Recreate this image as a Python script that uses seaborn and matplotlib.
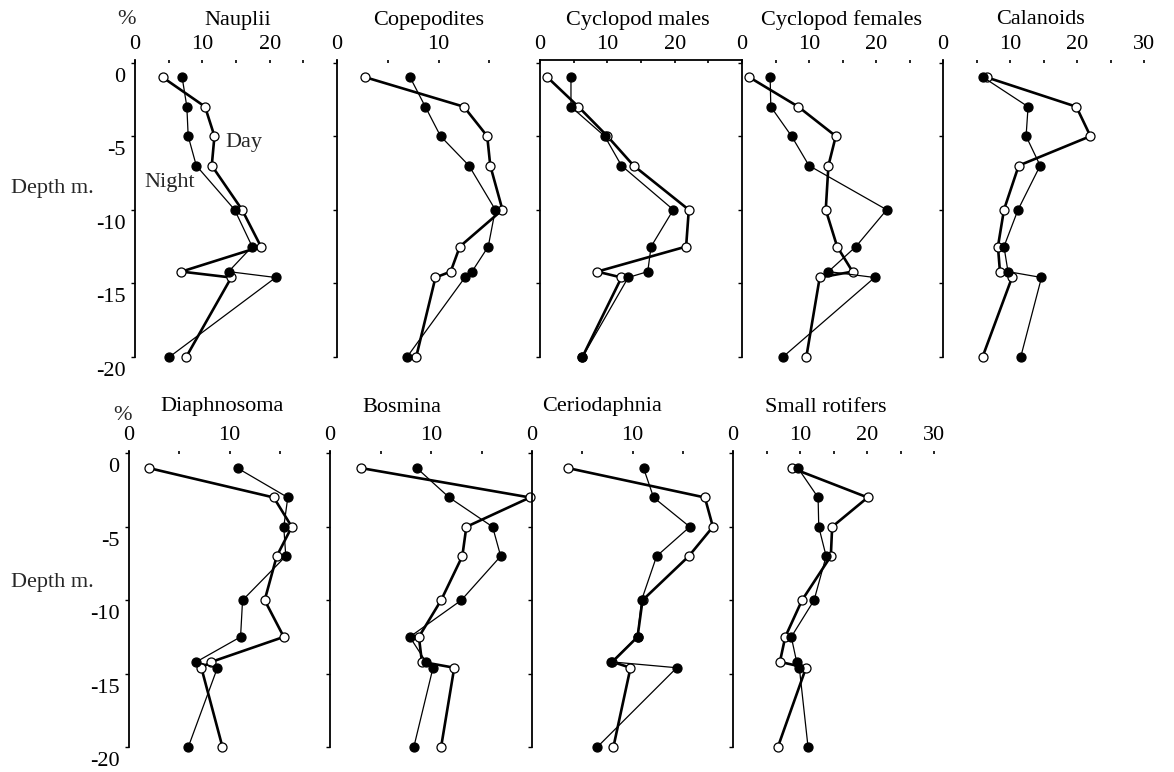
import numpy as np
import pandas as pd
import matplotlib
matplotlib.use("Agg")
import matplotlib.pyplot as plt
import matplotlib.transforms as mtransforms
import seaborn as sns

# ---------------- data (percent of population per depth) ----------------
depth = [-1, -3, -5, -7, -10, -12.5, -14.2, -14.6, -20]

nauplii_day = [4.1, 10.4, 11.8, 11.4, 15.9, 18.7, 6.9, 14.3, 7.6]
nauplii_night = [7.0, 7.7, 7.9, 9.1, 14.8, 17.4, 13.9, 20.9, 5.1]

copepodites_day = [2.8, 12.5, 14.8, 15.1, 16.3, 12.1, 11.2, 9.7, 7.8]
copepodites_night = [7.2, 8.7, 10.2, 13.0, 15.6, 14.9, 13.3, 12.6, 6.9]

cyc_males_day = [1.1, 5.7, 10.0, 13.9, 22.1, 21.7, 8.5, 12.1, 6.3]
cyc_males_night = [4.6, 4.6, 9.6, 12.1, 19.8, 16.5, 16.0, 13.1, 6.3]

cyc_females_day = [1.1, 8.4, 14.0, 12.9, 12.5, 14.2, 16.5, 11.6, 9.6]
cyc_females_night = [4.2, 4.3, 7.4, 10.0, 21.6, 17.0, 12.9, 19.8, 6.1]

calanoids_day = [6.5, 19.9, 22.0, 11.3, 9.1, 8.2, 8.5, 10.3, 5.9]
calanoids_night = [6.0, 12.7, 12.4, 14.5, 11.2, 9.1, 9.7, 14.7, 11.6]

diaphnosoma_day = [2.0, 14.4, 16.2, 14.7, 13.5, 15.4, 8.2, 7.2, 9.3]
diaphnosoma_night = [10.8, 15.8, 15.4, 15.6, 11.3, 11.1, 6.7, 8.8, 5.9]

bosmina_day = [3.1, 19.8, 13.5, 13.1, 11.0, 8.8, 9.1, 12.3, 11.0]
bosmina_night = [8.6, 11.8, 16.1, 16.9, 13.0, 7.9, 9.5, 10.2, 8.3]

ceriodaphnia_day = [3.6, 17.2, 18.0, 15.6, 11.0, 10.5, 8.0, 9.8, 8.1]
ceriodaphnia_night = [11.1, 12.1, 15.7, 12.4, 10.9, 10.5, 7.9, 14.4, 6.5]

rotifers_day = [8.8, 20.1, 14.8, 14.6, 10.3, 7.8, 7.0, 10.9, 6.7]
rotifers_night = [9.7, 12.7, 12.8, 13.9, 12.1, 8.7, 9.5, 9.9, 11.2]

titles_top = ["Nauplii", "Copepodites", "Cyclopod males", "Cyclopod females", "Calanoids"]
titles_bottom = ["Diaphnosoma", "Bosmina", "Ceriodaphnia", "Small rotifers"]
depth_ticks = [0, -5, -10, -15, -20]
depth_ticklabels = ["0", "-5", "-10", "-15", "-20"]

# ---------------- style ----------------
sns.set_theme(style="white")
plt.rcParams['font.family'] = ['Liberation Serif', 'DejaVu Serif']
plt.rcParams['axes.facecolor'] = 'none'
FS = 16

W, H = 1174, 772
fig = plt.figure(figsize=(W / 100, H / 100), dpi=100)

# layout (pixel positions)
top_row = dict(top=59.6, bottom=357, title_y=20)
bot_row = dict(top=450.5, bottom=747, title_y=407)

panels = [
    # title, day, night, xmax, left_px, width_px, row, title_x(data), first, last, topspine
    (titles_top[0], nauplii_day, nauplii_night, 30, 135, 202, top_row, 15.2, True, False, False),
    (titles_top[1], copepodites_day, copepodites_night, 20, 337, 203, top_row, 9.0, False, False, False),
    (titles_top[2], cyc_males_day, cyc_males_night, 30, 540, 202, top_row, 14.5, False, False, True),
    (titles_top[3], cyc_females_day, cyc_females_night, 30, 742, 201, top_row, 14.8, False, False, False),
    (titles_top[4], calanoids_day, calanoids_night, 30, 943, 201, top_row, 14.6, False, True, False),
    (titles_bottom[0], diaphnosoma_day, diaphnosoma_night, 20, 129, 201, bot_row, 9.3, True, False, False),
    (titles_bottom[1], bosmina_day, bosmina_night, 20, 330, 202, bot_row, 7.1, False, False, False),
    (titles_bottom[2], ceriodaphnia_day, ceriodaphnia_night, 20, 532, 201, bot_row, 7.0, False, False, False),
    (titles_bottom[3], rotifers_day, rotifers_night, 30, 733, 201, bot_row, 13.9, False, True, False),
]

axes = []
for (title, day, night, xmax, lpx, wpx, row, tx, first, last, topspine) in panels:
    ax = fig.add_axes([lpx / W, 1 - row['bottom'] / H, wpx / W,
                       (row['bottom'] - row['top']) / H])
    axes.append(ax)
    df = pd.DataFrame({"depth": depth, "day": day, "night": night})

    sns.lineplot(data=df, x="day", y="depth", sort=False, estimator=None, ax=ax,
                 color="black", linewidth=1.9, marker="o", markersize=6.5,
                 markerfacecolor="white", markeredgecolor="black",
                 markeredgewidth=0.9, clip_on=False, zorder=3)
    sns.lineplot(data=df, x="night", y="depth", sort=False, estimator=None, ax=ax,
                 color="black", linewidth=0.9, marker="o", markersize=6.5,
                 markerfacecolor="black", markeredgecolor="black",
                 markeredgewidth=0.9, clip_on=False, zorder=4)

    ax.set_xlim(0, xmax)
    ax.set_ylim(-20, 0.2)
    ax.set_xlabel("")
    ax.set_ylabel("")

    for s in ["right", "bottom", "top"]:
        ax.spines[s].set_visible(False)
    ax.spines["left"].set_color("black")
    ax.spines["left"].set_linewidth(1.3)
    if topspine:
        ax.spines["top"].set_visible(True)
        ax.spines["top"].set_color("black")
        ax.spines["top"].set_linewidth(1.3)

    # x axis on top
    ax.xaxis.tick_top()
    xt = list(range(0, xmax + 1, 5))
    if not last:
        xt = [v for v in xt if v < xmax]
    xl = [str(v) if v % 10 == 0 else "" for v in xt]
    ax.set_xticks(xt)
    ax.set_xticklabels(xl, fontsize=FS)
    ax.tick_params(axis="x", which="major", top=True, bottom=False, length=2.5,
                   width=1.2, direction="in", pad=4, colors="black")

    # y axis
    ax.set_yticks(depth_ticks)
    ax.tick_params(axis="y", which="major", left=True, right=False, length=3,
                   width=1.0, direction="out", pad=4, colors="black")
    if first:
        ax.set_yticklabels(depth_ticklabels, fontsize=FS)
        off = mtransforms.ScaledTranslation(0, -12 / 100, fig.dpi_scale_trans)
        for lab in ax.get_yticklabels():
            lab.set_transform(lab.get_transform() + off)
    else:
        ax.set_yticklabels([])

    # title
    trans = mtransforms.blended_transform_factory(ax.transData, fig.transFigure)
    ax.text(tx, 1 - row['title_y'] / H, title, transform=trans, ha="center",
            va="center", fontsize=FS, color="black")

# "%" marks and depth labels
fig.text(127 / W, 1 - 20 / H, "%", ha="center", va="center", fontsize=FS)
fig.text(122 / W, 1 - 415 / H, "%", ha="center", va="center", fontsize=FS)
fig.text(52 / W, 1 - 188 / H, "Depth m.", ha="center", va="center", fontsize=FS)
fig.text(52 / W, 1 - 582 / H, "Depth m.", ha="center", va="center", fontsize=FS)

# Day / Night annotations in Nauplii panel
axes[0].text(16.1, -5.4, "Day", ha="center", va="center", fontsize=FS)
axes[0].text(5.1, -8.15, "Night", ha="center", va="center", fontsize=FS)

fig.savefig("out.png", dpi=100, facecolor="white")
